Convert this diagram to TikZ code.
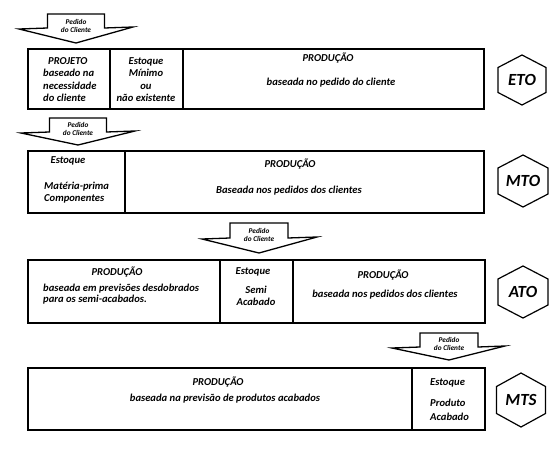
\documentclass[tikz,border=0pt]{standalone}
\usepackage{fontspec}
\setmainfont{Carlito}
\begin{document}
\begin{tikzpicture}[x=1pt,y=-1pt,
  cell/.style={draw, line width=1.3pt, inner sep=0pt, outer sep=0pt, anchor=north west},
  frame/.style={draw, line width=2pt},
  txt/.style={font=\fontsize{10.6}{12.5}\selectfont\bfseries\itshape, inner sep=0pt, align=center},
  txtl/.style={txt, align=left, anchor=west},
  ptxt/.style={font=\fontsize{7.3}{8.8}\selectfont\bfseries\itshape, inner sep=0pt, align=center},
  hexlbl/.style={font=\fontsize{17}{17}\selectfont\bfseries\itshape, inner sep=0pt},
  orderarrow/.style={draw, line width=1.3pt, fill=white, line join=miter},
  hexline/.style={draw, line width=1.2pt, line join=miter}]
\useasboundingbox[fill=white] (0,0) rectangle (559,449);

% ---------- ETO ----------
\begin{scope}[shift={(76,14)}]
  \draw[orderarrow] (-28.5,0) -- (28.5,0) -- (28.5,14) -- (57,13) -- (0,29) -- (-57,15) -- (-28.5,14) -- cycle;
  \node[ptxt] (p1) at (0,12) {Pedido\\do Cliente};
\end{scope}
\node[cell, minimum width=82pt, minimum height=60pt] (eto1) at (28,49) {};
\node[cell, minimum width=73pt, minimum height=60pt] (eto2) at (110,49) {};
\node[cell, minimum width=301pt, minimum height=60pt] (eto3) at (183,49) {};
\draw[frame] (eto1.north west) rectangle (eto3.south east);
\node[txtl] (eto1t) at (43,79.5) {\hspace*{5pt}PROJETO\\baseado na\\necessidade\\do cliente};
\node[txt] (eto2t) at (146,79.5) {Estoque\\Mínimo\\ou\\não existente};
\node[txt] (eto3a) at (328,58) {PRODUÇÃO};
\node[txt] (eto3b) at (331,83) {baseada no pedido do cliente};
\node[hexlbl] (eto) at (522,80) {ETO};
\draw[hexline] (eto.center) ++(0,-25) -- ++(24,12.5) -- ++(0,25) -- ++(-24,12.5) -- ++(-24,-12.5) -- ++(0,-25) -- cycle;

% ---------- MTO ----------
\begin{scope}[shift={(78,118)}]
  \draw[orderarrow] (-28.5,0) -- (28.5,0) -- (28.5,14) -- (57,13) -- (0,27) -- (-57,15) -- (-28.5,14) -- cycle;
  \node[ptxt] (p2) at (0,11) {Pedido\\do Cliente};
\end{scope}
\node[cell, minimum width=97pt, minimum height=62pt] (mto1) at (28,151) {};
\node[cell, minimum width=359pt, minimum height=62pt] (mto2) at (125,151) {};
\draw[frame] (mto1.north west) rectangle (mto2.south east);
\node[txt] (mto1a) at (68,161) {Estoque};
\node[txtl] (mto1b) at (44,192.5) {Matéria-prima\\Componentes};
\node[txt] (mto2a) at (290,164) {PRODUÇÃO};
\node[txt] (mto2b) at (289,191) {Baseada nos pedidos dos clientes};
\node[hexlbl] (mto) at (523,181) {MTO};
\draw[hexline] (mto.center) ++(0,-26) -- ++(25,13) -- ++(0,26) -- ++(-25,13) -- ++(-25,-13) -- ++(0,-26) -- cycle;

% ---------- ATO ----------
\begin{scope}[shift={(259,223)}]
  \draw[orderarrow] (-29,0) -- (29,0) -- (29,15) -- (58,14) -- (0,30) -- (-57,16) -- (-29,15) -- cycle;
  \node[ptxt] (p3) at (0,12) {Pedido\\do Cliente};
\end{scope}
\node[cell, minimum width=192pt, minimum height=63pt] (ato1) at (28,260) {};
\node[cell, minimum width=73pt, minimum height=63pt] (ato2) at (220,260) {};
\node[cell, minimum width=192pt, minimum height=63pt] (ato3) at (293,260) {};
\draw[frame] (ato1.north west) rectangle (ato3.south east);
\node[txt] (ato1a) at (117,272) {PRODUÇÃO};
\node[txtl, font=\fontsize{10.6}{11.5}\selectfont\bfseries\itshape] (ato1b) at (43,294) {baseada em previsões desdobrados\\para os semi-acabados.};
\node[txt] (ato2a) at (253,272) {Estoque};
\node[txt, font=\fontsize{10.6}{11.5}\selectfont\bfseries\itshape] (ato2b) at (256,296) {Semi\\Acabado};
\node[txt] (ato3a) at (383,275) {PRODUÇÃO};
\node[txt] (ato3b) at (385,295) {baseada nos pedidos dos clientes};
\node[hexlbl] (ato) at (523,292) {ATO};
\draw[hexline] (ato.center) ++(0,-26) -- ++(25,13) -- ++(0,26) -- ++(-25,13) -- ++(-25,-13) -- ++(0,-26) -- cycle;

% ---------- MTS ----------
\begin{scope}[shift={(449,333)}]
  \draw[orderarrow] (-29,0) -- (29,0) -- (29,14) -- (56,13) -- (0,27) -- (-57,15) -- (-29,14) -- cycle;
  \node[ptxt] (p4) at (0,11) {Pedido\\do Cliente};
\end{scope}
\node[cell, minimum width=384pt, minimum height=62pt] (mts1) at (28,368) {};
\node[cell, minimum width=73pt, minimum height=62pt] (mts2) at (412,368) {};
\draw[frame] (mts1.north west) rectangle (mts2.south east);
\node[txt] (mts1a) at (218,382) {PRODUÇÃO};
\node[txt] (mts1b) at (225,399) {baseada na previsão de produtos acabados};
\node[txtl] (mts2a) at (430,383) {Estoque};
\node[txtl, font=\fontsize{10.6}{14}\selectfont\bfseries\itshape] (mts2b) at (430,410) {Produto\\Acabado};
\node[hexlbl] (mts) at (521,400) {MTS};
\draw[hexline] (mts.center) ++(0,-27) -- ++(24.5,13.5) -- ++(0,27) -- ++(-24.5,13.5) -- ++(-24.5,-13.5) -- ++(0,-27) -- cycle;
\end{tikzpicture}
\end{document}
